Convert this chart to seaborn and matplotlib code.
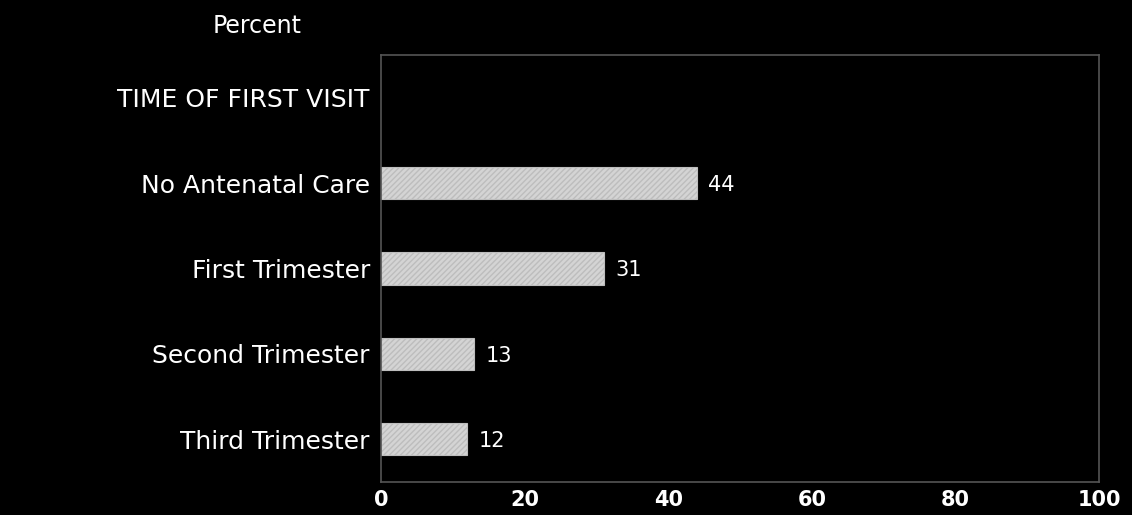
import matplotlib
matplotlib.use("Agg")
import matplotlib.pyplot as plt
import seaborn as sns
import pandas as pd

header = "TIME OF FIRST VISIT"
categories = ["No Antenatal Care", "First Trimester", "Second Trimester", "Third Trimester"]
values = [44, 31, 13, 12]
xticks = [0, 20, 40, 60, 80, 100]

sns.set_theme(style="dark")
plt.rcParams["font.family"] = ["DejaVu Sans"]
plt.rcParams["hatch.color"] = "white"
plt.rcParams["hatch.linewidth"] = 1.0

df = pd.DataFrame({"visit": categories, "pct": values})

fig = plt.figure(figsize=(11.32, 5.15), dpi=100, facecolor="black")
ax = fig.add_axes([381 / 1132, 1 - 482 / 515, (1099 - 381) / 1132, (482 - 55) / 515])
ax.set_facecolor("black")

sns.barplot(data=df, y="visit", x="pct", order=[header] + categories, orient="h",
            width=0.375, color="#d4d4d4", edgecolor="#bdbdbd", linewidth=0.8,
            hatch="//////", ax=ax)

ax.set_xlim(0, 100)
ax.set_ylim(4.5, -0.5)
ax.set_xticks(xticks)
ax.set_xticklabels([str(t) for t in xticks], fontsize=15, fontweight="bold", color="white")
ax.tick_params(axis="x", length=0, pad=6)
ax.tick_params(axis="y", length=0, pad=8, labelsize=18, labelcolor="white")
ax.set_xlabel("")
ax.set_ylabel("")
for s in ax.spines.values():
    s.set_visible(True)
    s.set_color("#555555")
    s.set_linewidth(1.2)
ax.grid(False)

for i, v in enumerate(values):
    ax.text(v + 1.6, i + 1, str(v), va="center_baseline", ha="left", color="white", fontsize=15)

fig.text(257 / 1132, 1 - 26 / 515, "Percent", ha="center", va="center", color="white", fontsize=17)

fig.savefig("out.png", dpi=100, facecolor="black")
